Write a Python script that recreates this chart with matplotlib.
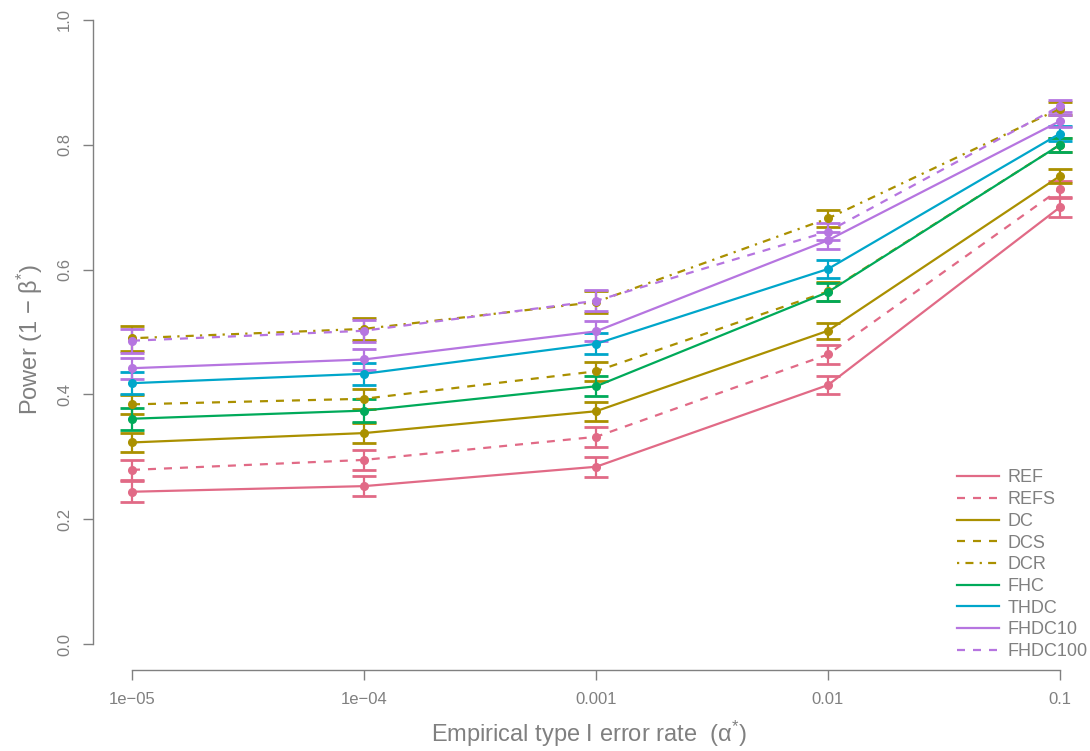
import numpy as np
import matplotlib.pyplot as plt

plt.rcParams['font.family'] = ['Liberation Sans', 'DejaVu Sans']
plt.rcParams['mathtext.fontset'] = 'custom'
plt.rcParams['mathtext.rm'] = 'Liberation Sans'
plt.rcParams['mathtext.it'] = 'Liberation Sans'

alpha = [1e-05, 1e-04, 1e-03, 1e-02, 1e-01]
xlabels = ['1e\u221205', '1e\u221204', '0.001', '0.01', '0.1']

names = ['REF', 'REFS', 'DC', 'DCS', 'DCR', 'FHC', 'THDC', 'FHDC10', 'FHDC100']
ref = [0.244, 0.253, 0.284, 0.415, 0.700]
refs = [0.279, 0.295, 0.332, 0.464, 0.729]
dc = [0.323, 0.338, 0.373, 0.502, 0.750]
dcs = [0.384, 0.393, 0.437, 0.565, 0.800]
dcr = [0.490, 0.505, 0.548, 0.682, 0.858]
fhc = [0.361, 0.374, 0.413, 0.564, 0.800]
thdc = [0.418, 0.433, 0.481, 0.601, 0.818]
fhdc10 = [0.442, 0.456, 0.501, 0.647, 0.838]
fhdc100 = [0.486, 0.502, 0.550, 0.661, 0.862]

ref_err = [0.017, 0.016, 0.016, 0.014, 0.015]
refs_err = [0.016, 0.016, 0.016, 0.015, 0.013]
dc_err = [0.015, 0.016, 0.015, 0.013, 0.011]
dcs_err = [0.015, 0.016, 0.015, 0.015, 0.011]
dcr_err = [0.020, 0.018, 0.017, 0.014, 0.010]
fhc_err = [0.018, 0.019, 0.016, 0.014, 0.011]
thdc_err = [0.018, 0.018, 0.017, 0.015, 0.012]
fhdc10_err = [0.017, 0.017, 0.016, 0.014, 0.010]
fhdc100_err = [0.019, 0.018, 0.017, 0.014, 0.009]

vals = [ref, refs, dc, dcs, dcr, fhc, thdc, fhdc10, fhdc100]
errs = [ref_err, refs_err, dc_err, dcs_err, dcr_err, fhc_err, thdc_err, fhdc10_err, fhdc100_err]

pink, olive, green, blue, purple = '#E16A86', '#AA9000', '#00AA5A', '#00A6CA', '#B675E0'
cols = [pink, pink, olive, olive, olive, green, blue, purple, purple]
dash = (0, (3.6, 3.6))
dashdot = (0, (1, 2.8, 3.6, 2.8))
styles = ['-', dash, '-', dash, dashdot, '-', '-', '-', dash]

W, H = 1090, 751
fig = plt.figure(figsize=(W / 100, H / 100), dpi=100)
# axes box in pixels: left 93, right 1085, top 10, bottom 670
ax = fig.add_axes([93 / W, (H - 670) / H, (1085 - 93) / W, (670 - 10) / H])

gray = '#808080'
for v, e, c, ls, nm in zip(vals, errs, cols, styles, names):
    ax.errorbar(alpha, v, yerr=e, color=c, ecolor=c, elinewidth=1.6, capsize=8.5,
                capthick=2.0, fmt='none', zorder=2)
    ax.plot(alpha, v, color=c, lw=1.6, linestyle=ls, label=nm, zorder=3)
    ax.plot(alpha, v, 'o', color=c, ms=5.5, zorder=4)

ax.set_xscale('log')
ppd = 232.0
ax.set_xlim(10 ** (-5 - 39 / ppd), 10 ** (-1 + 25 / ppd))
ax.set_ylim(-26 / 624, 1 + 10 / 624)

ax.set_xticks(alpha)
ax.set_xticklabels(xlabels)
ax.xaxis.set_minor_locator(plt.NullLocator())
ax.set_yticks([0, 0.2, 0.4, 0.6, 0.8, 1.0])
ax.set_yticklabels(['0.0', '0.2', '0.4', '0.6', '0.8', '1.0'], rotation=90, va='center')

for s in ['top', 'right']:
    ax.spines[s].set_visible(False)
ax.spines['left'].set_bounds(0, 1)
ax.spines['bottom'].set_bounds(1e-05, 0.1)
for s in ['left', 'bottom']:
    ax.spines[s].set_color(gray)
    ax.spines[s].set_linewidth(1.0)
ax.tick_params(colors=gray, labelsize=12, length=7, width=1.0)
ax.tick_params(axis='x', pad=9)
ax.tick_params(axis='y', pad=8)

ax.set_xlabel('Empirical type I error rate  (\u03b1$^{*}$)', fontsize=17, color=gray, labelpad=8)
ax.set_ylabel('Power (1 \u2212 \u03b2$^{*}$)', fontsize=17, color=gray, labelpad=9)

leg = fig.legend(*ax.get_legend_handles_labels(), loc='lower right',
                 bbox_to_anchor=(1088 / W, (H - 660) / H), frameon=False, fontsize=13,
                 handlelength=2.3, labelspacing=0.26, handletextpad=0.5,
                 borderaxespad=0, borderpad=0)
for t in leg.get_texts():
    t.set_color(gray)

fig.savefig('out.png', dpi=100)
